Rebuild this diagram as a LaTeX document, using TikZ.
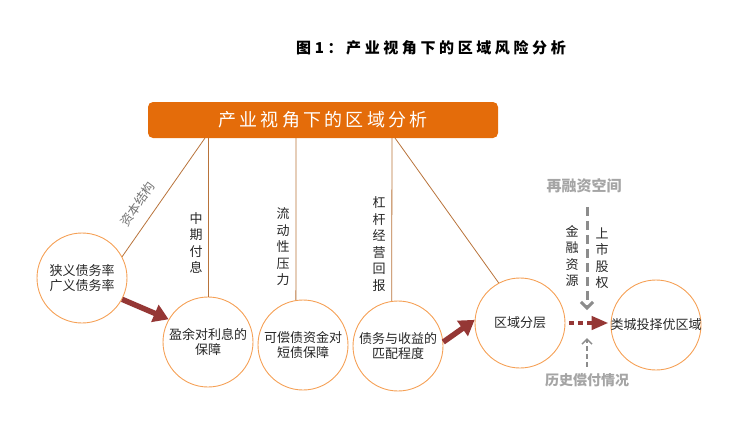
\documentclass[tikz,border=0pt]{standalone}
\usepackage{fontspec}
\setmainfont{Noto Sans CJK SC}
\usetikzlibrary{arrows.meta}
\definecolor{boxor}{HTML}{E46C0A}
\definecolor{circor}{HTML}{F5A055}
\definecolor{linebr}{HTML}{B8733A}
\definecolor{arrred}{HTML}{953735}
\definecolor{grayarr}{HTML}{8C8C8C}
\definecolor{graytxt}{HTML}{A5A5A5}
\begin{document}
\begin{tikzpicture}[x=1pt,y=-1pt,
 circ/.style={circle,draw=circor,line width=0.9pt,minimum size=90pt,inner sep=0pt,align=center,font=\fontsize{13}{15.5}\selectfont,text=black!85},
 vtxt/.style={align=center,font=\fontsize{13}{16.5}\selectfont,inner sep=0pt,text=black!85},
 conn/.style={draw=linebr,line width=0.8pt},
 bigarr/.style={draw=arrred,line width=5.5pt,-{Triangle[length=15pt,width=18pt]}},
]
\useasboundingbox (0,0) rectangle (748,426);
\node[font=\bfseries\fontsize{15}{15}\selectfont\addfontfeature{LetterSpace=24}] (title) at (431,47.5) {图1：产业视角下的区域风险分析};
\node[fill=boxor,rounded corners=5pt,minimum width=350pt,minimum height=36pt,inner sep=0pt,text=white,font=\fontsize{18}{18}\selectfont\addfontfeature{LetterSpace=18}] (top) at (323,120) {产业视角下的区域分析};

\node[circ] (c1) at (82,278) {狭义债务率\\广义债务率};
\node[circ] (c2) at (208,342) {盈余对利息的\\保障};
\node[circ] (c3) at (303,345) {可偿债资金对\\短债保障};
\node[circ] (c4) at (398,346) {债务与收益的\\匹配程度};
\node[circ] (c5) at (520,323) {区域分层};
\node[circ] (c6) at (656,325) {\makebox[60pt]{类城投择优区域}};

\coordinate (b1) at (205,138);
\coordinate (b2) at (208,138);
\coordinate (b3) at (296,138);
\coordinate (b4) at (392,138);
\coordinate (b5) at (395,138);
\draw[conn] (b1) -- (c1.28);
\draw[conn] (b2) -- (c2.north);
\draw[conn] (b3) -- (c3.99);
\draw[conn] (b4) -- (c4.98);
\draw[conn] (b5) -- (c5.118);

\node[rotate=56,text=black!55,font=\fontsize{12.5}{12.5}\selectfont,inner sep=0pt] (lab1) at (138,204) {资本结构};
\node[vtxt] (l2) at (196,243) {中\\期\\付\\息};
\node[vtxt] (l3) at (283,247) {流\\动\\性\\压\\力};
\node[vtxt] (l4) at (379,244) {杠\\杆\\经\\营\\回\\报};
\node[vtxt] (l6) at (572,256) {金\\融\\资\\源};
\node[vtxt] (l7) at (602,258) {上\\市\\股\\权};

\draw[bigarr] (c1.-28) -- (c2.150);
\draw[bigarr] (c4.5) -- (c5.176);
\draw[draw=arrred,line width=4.5pt,dash pattern=on 4.5pt off 4.5pt,shorten <=4pt,shorten >=2pt,-{Triangle[length=17pt,width=13pt]}] (c5.east) -- (c5.east -| c6.west);

\node[text=graytxt,font=\bfseries\fontsize{15}{15}\selectfont] (t1) at (584,186) {再融资空间};
\node[text=graytxt,font=\bfseries\fontsize{14}{14}\selectfont] (t2) at (587,380) {历史偿付情况};
\coordinate (m) at (587,323);
\draw[grayarr,line width=3pt,dash pattern=on 9pt off 5pt,shorten <=10pt,shorten >=13pt,-{Straight Barb[length=6pt,width=12pt]}] (t1.south -| m) -- (m);
\draw[grayarr,line width=1.5pt,dash pattern=on 5pt off 3pt,shorten <=3pt,shorten >=15pt,-{Straight Barb[length=5pt,width=10pt]}] (t2.north -| m) -- (m);
\end{tikzpicture}
\end{document}
